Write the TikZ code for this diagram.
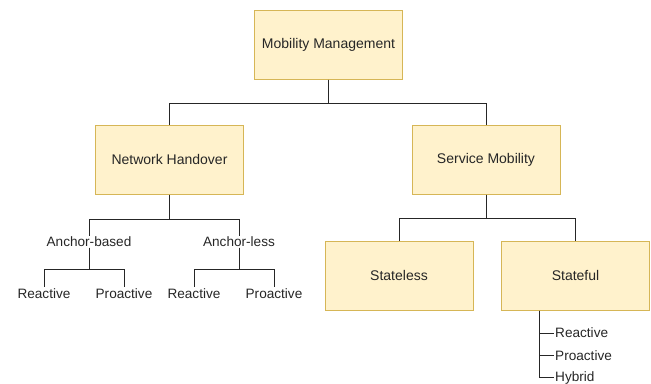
\documentclass[tikz,border=0pt]{standalone}
\usepackage{fontspec}
\setmainfont{Liberation Sans}
\definecolor{boxfill}{HTML}{FFF2CC}
\definecolor{boxdraw}{HTML}{D6B656}
\begin{document}
\begin{tikzpicture}[x=1bp,y=-1bp,
  box/.style={draw=boxdraw,fill=boxfill,line width=1bp,minimum width=148bp,minimum height=69bp,inner sep=0pt,font=\fontsize{14bp}{16bp}\selectfont,text=black!85},
  lbl/.style={inner sep=1bp,font=\fontsize{13.6bp}{15bp}\selectfont,text=black!85},
  rlbl/.style={anchor=west,inner sep=1bp,font=\fontsize{13.6bp}{15bp}\selectfont,text=black!85},
  conn/.style={line width=1bp,draw=black!85}]
\useasboundingbox (0,0) rectangle (651,383);
\node[box] (mm) at (328.5,44.5) {Mobility Management};
\node[box] (nh) at (169.5,159.5) {Network Handover};
\node[box] (sm) at (486,159.5) {Service Mobility};
\node[box] (sl) at (399,275.5) {Stateless};
\node[box] (sf) at (575.5,275.5) {Stateful};
\node[lbl] (ab) at (89,241.5) {Anchor-based};
\node[lbl] (al) at (239,241.5) {Anchor-less};
\node[lbl] (r1) at (44,293.5) {Reactive};
\node[lbl] (p1) at (124,293.5) {Proactive};
\node[lbl] (r2) at (194,293.5) {Reactive};
\node[lbl] (p2) at (274,293.5) {Proactive};
\node[rlbl] (sr) at (554,333) {Reactive};
\node[rlbl] (sp) at (554,355.5) {Proactive};
\node[rlbl] (sh) at (554,377.5) {Hybrid};
% top level
\draw[conn] (mm.south) -- ++(0,24) -| (nh.north);
\draw[conn] (mm.south) -- ++(0,24) -| (sm.north);
% network handover
\draw[conn] (nh.south) -- ++(0,24.5) -| ([yshift=-1bp]ab.north);
\draw[conn] (nh.south) -- ++(0,24.5) -| ([yshift=-1bp]al.north);
\draw[conn] (ab.south) -- ++(0,22) -| (r1.north);
\draw[conn] (ab.south) -- ++(0,22) -| (p1.north);
\draw[conn] (al.south) -- ++(0,22) -| (r2.north);
\draw[conn] (al.south) -- ++(0,22) -| (p2.north);
% service mobility
\draw[conn] (sm.south) -- ++(0,24) -| (sl.north);
\draw[conn] (sm.south) -- ++(0,24) -| (sf.north);
% stateful
\coordinate (st) at ([xshift=-36.5bp]sf.south);
\draw[conn] (st) |- (sr.west);
\draw[conn] (st) |- (sp.west);
\draw[conn] (st) |- (sh.west);
\end{tikzpicture}
\end{document}
